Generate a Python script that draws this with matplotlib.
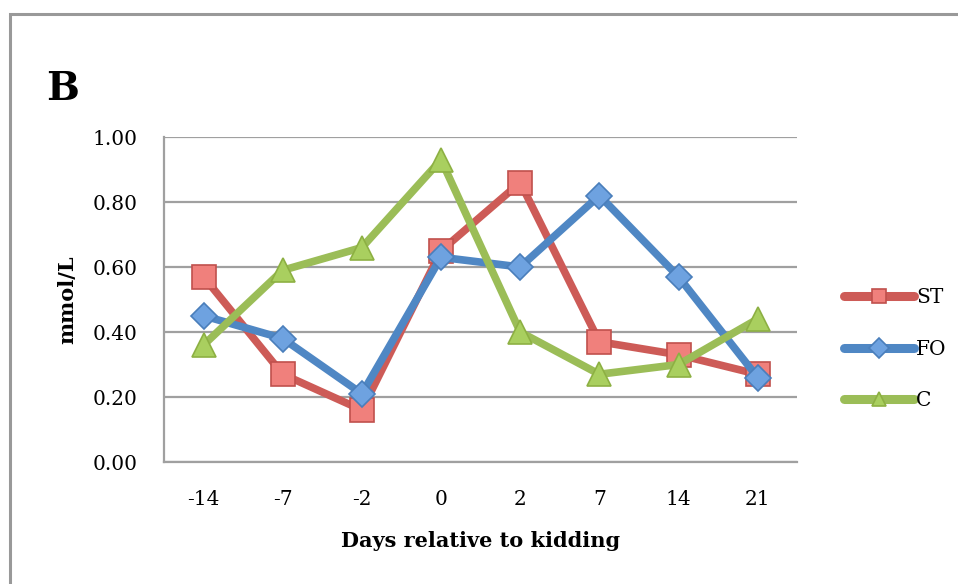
import numpy as np
import matplotlib.pyplot as plt
import matplotlib.patches as patches

# ── data ─────────────────────────────────────────────────────────────────────
days = ["-14", "-7", "-2", "0", "2", "7", "14", "21"]
st = [0.57, 0.27, 0.16, 0.65, 0.86, 0.37, 0.33, 0.27]
fo = [0.45, 0.38, 0.21, 0.63, 0.60, 0.82, 0.57, 0.26]
c_ = [0.36, 0.59, 0.66, 0.93, 0.40, 0.27, 0.30, 0.44]
yticks = [0.0, 0.2, 0.4, 0.6, 0.8, 1.0]

# ── colours ──────────────────────────────────────────────────────────────────
RED_LINE, RED_FILL, RED_EDGE = "#CD5B57", "#F0807C", "#C0504D"
BLUE_LINE, BLUE_FILL, BLUE_EDGE = "#4F87C4", "#6EA2E0", "#4A7EBB"
GREEN_LINE, GREEN_FILL, GREEN_EDGE = "#9BBD57", "#A9CF5F", "#8DB043"
GRID = "#A0A0A0"

plt.rcParams["font.family"] = ["DejaVu Serif"]

fig = plt.figure(figsize=(9.58, 5.84), dpi=100)
ax = fig.add_axes([0.1712, 0.2089, 0.661, 0.5565])

x = np.arange(len(days))
series = [
    ("ST", st, "s", 17, RED_LINE, RED_FILL, RED_EDGE),
    ("FO", fo, "D", 13.5, BLUE_LINE, BLUE_FILL, BLUE_EDGE),
    ("C", c_, "^", 17, GREEN_LINE, GREEN_FILL, GREEN_EDGE),
]
for label, vals, mk, ms, lc, fc, ec in series:
    ax.plot(x, vals, color=lc, lw=5.5, marker=mk, ms=ms, mfc=fc, mec=ec,
            mew=1.2, solid_joinstyle="round", solid_capstyle="round",
            label=label, zorder=3)

ax.set_xlim(-0.5, len(days) - 0.5)
ax.set_ylim(0, 1.0)
ax.set_xticks(x)
ax.set_xticklabels(days)
ax.set_yticks(yticks)
ax.set_yticklabels([f"{v:.2f}" for v in yticks])
ax.tick_params(length=0, labelsize=14.5, pad=19)
ax.tick_params(axis="x", pad=20)

ax.grid(axis="y", color=GRID, lw=1.6)
ax.set_axisbelow(True)
for s in ["top", "right"]:
    ax.spines[s].set_visible(False)
for s in ["left", "bottom"]:
    ax.spines[s].set_color(GRID)
    ax.spines[s].set_linewidth(1.6)

ax.set_xlabel("Days relative to kidding", fontsize=15, fontweight="bold",
              labelpad=16)
ax.set_ylabel("mmol/L", fontsize=15, fontweight="bold", labelpad=11)

fig.text(0.048, 0.848, "B", fontsize=28, fontweight="bold", va="center")

leg = fig.legend(loc="center left", bbox_to_anchor=(0.862, 0.402),
                 frameon=False, fontsize=14.5, handlelength=3.5,
                 handletextpad=0.08, labelspacing=1.62)
for h in leg.legend_handles:
    h.set_markersize(10)
    h.set_linewidth(6.5)

# outer frame (top and left edges visible)
frame = patches.Rectangle((10 / 958, -0.1), 1.2, 1 - 14 / 584 + 0.1,
                          transform=fig.transFigure, fill=False,
                          edgecolor="#999999", lw=2.2, zorder=0)
fig.patches.append(frame)

fig.savefig("out.png", dpi=100)
